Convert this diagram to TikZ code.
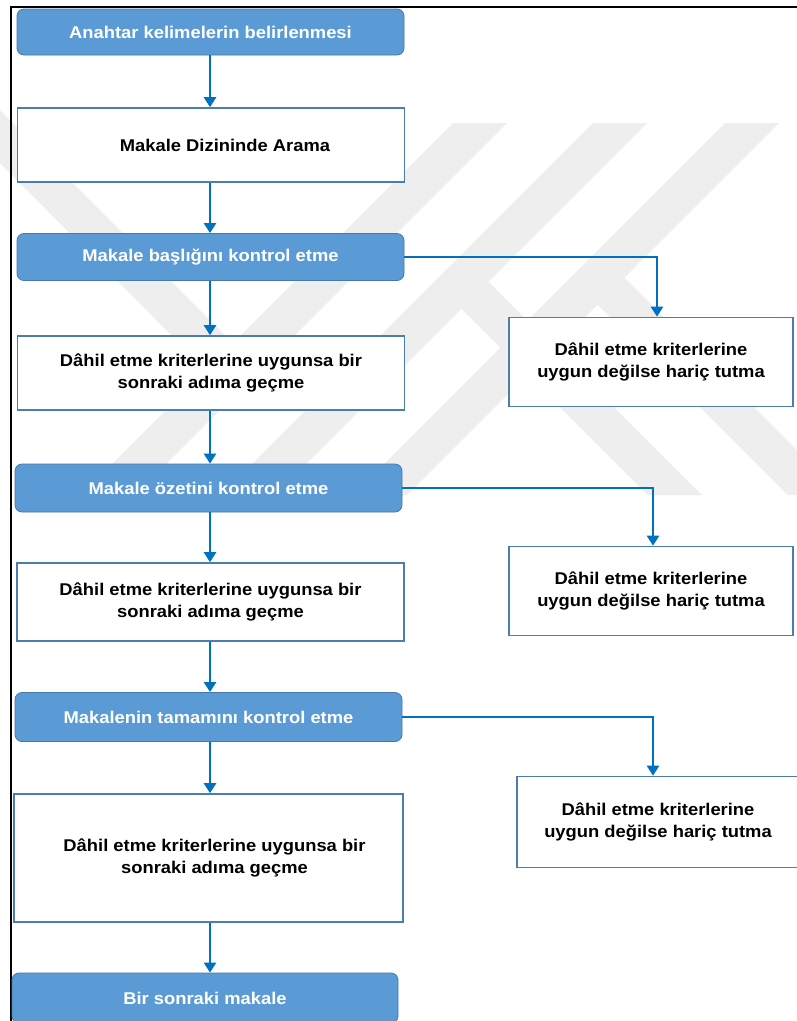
\documentclass[tikz,border=0pt]{standalone}
\usepackage{fontspec}
\setmainfont{Liberation Sans}[FakeStretch=1.08]
\usetikzlibrary{arrows.meta}
\definecolor{boxblue}{RGB}{91,155,213}
\definecolor{boxedge}{RGB}{70,120,170}
\definecolor{lineblue}{RGB}{0,112,192}
\definecolor{frameblue}{RGB}{75,125,175}
\definecolor{markgray}{RGB}{238,238,238}
\tikzset{
  stepfill/.style={draw=boxedge, line width=0.8pt, fill=boxblue, rounded corners=7pt,
    text=white, font=\fontsize{17}{22}\selectfont\bfseries, inner sep=0pt, align=center},
  stepwhite/.style={draw=frameblue, line width=1.6pt, fill=white,
    text=black, font=\fontsize{17}{22}\selectfont\bfseries, inner sep=0pt, align=center},
  flow/.style={draw=lineblue, line width=2.6pt,
    -{Triangle[length=10pt,width=12pt]}},
  stripe/.style={fill=markgray, draw=none},
}
\begin{document}
\begin{tikzpicture}[x=1pt,y=-1pt]
\useasboundingbox (0,0) rectangle (797,1021);
\fill[white] (0,0) rectangle (797,1021);

% light background emblem: rising bars with falling branches
\foreach \xa in {453,593,725}
  \fill[stripe] (\xa,123) -- ++(54,0) -- ++(-372,372) -- ++(-54,0) -- cycle;
\fill[stripe] (461,308) -- (648,495) -- (702,495) -- (488,281) -- cycle;
\fill[stripe] (597,304) -- (788,495) -- (797,495) -- (797,450) -- (624,277) -- cycle;
\fill[stripe] (0,110) -- (233,343) -- (206,370) -- (0,163) -- cycle;

% page frame
\draw[black, line width=2pt] (797,7) -- (11,7) -- (11,1021);

% main column
\node[stepfill, minimum width=387pt, minimum height=46pt] (b1) at (210.5,32)
  {Anahtar kelimelerin belirlenmesi};
\node[stepwhite, minimum width=387pt, minimum height=74pt] (b2) at (211,145)
  {\hspace*{28pt}Makale Dizininde Arama};
\node[stepfill, minimum width=387pt, minimum height=47pt] (b3) at (210.5,257)
  {Makale başlığını kontrol etme};
\node[stepwhite, minimum width=387pt, minimum height=74pt] (b4) at (211,373)
  {Dâhil etme\ kriterlerine uygunsa bir\\sonraki adıma geçme};
\node[stepfill, minimum width=387pt, minimum height=48pt] (b5) at (208.5,488)
  {Makale özetini kontrol etme};
\node[stepwhite, minimum width=387pt, minimum height=78pt] (b6) at (210.5,602)
  {Dâhil etme\ kriterlerine uygunsa bir\\sonraki adıma geçme};
\node[stepfill, minimum width=387pt, minimum height=49pt] (b7) at (208.5,717)
  {Makalenin tamamını kontrol etme};
\node[stepwhite, minimum width=389pt, minimum height=128pt] (b8) at (208.5,858)
  {\hspace*{12pt}Dâhil etme\ kriterlerine uygunsa bir\\\hspace*{12pt}sonraki adıma geçme};
\node[stepfill, minimum width=386pt, minimum height=50pt] (b9) at (205,998)
  {Bir sonraki makale};

% exclusion boxes
\node[stepwhite, minimum width=284pt, minimum height=89pt] (r1) at (651,362)
  {Dâhil etme kriterlerine\\uygun değilse hariç tutma};
\node[stepwhite, minimum width=284pt, minimum height=89pt] (r2) at (651,591)
  {Dâhil etme kriterlerine\\uygun değilse hariç tutma};
\node[stepwhite, minimum width=282pt, minimum height=91pt] (r3) at (658,822)
  {Dâhil etme kriterlerine\\uygun değilse hariç tutma};

\coordinate (spine) at (210,0);
\coordinate (k1) at (657,0);
\coordinate (k2) at (653,0);
\coordinate (k3) at (653,0);

% vertical flow
\foreach \a/\b in {b1/b2,b2/b3,b3/b4,b4/b5,b5/b6,b6/b7,b7/b8,b8/b9}
  \draw[flow] (\a.south -| spine) -- (\b.north -| spine);

% branches to exclusion
\draw[flow] (b3.east) -- (b3.east -| k1) -- (r1.north -| k1);
\draw[flow] (b5.east) -- (b5.east -| k2) -- (r2.north -| k2);
\draw[flow] (b7.east) -- (b7.east -| k3) -- (r3.north -| k3);
\end{tikzpicture}
\end{document}
